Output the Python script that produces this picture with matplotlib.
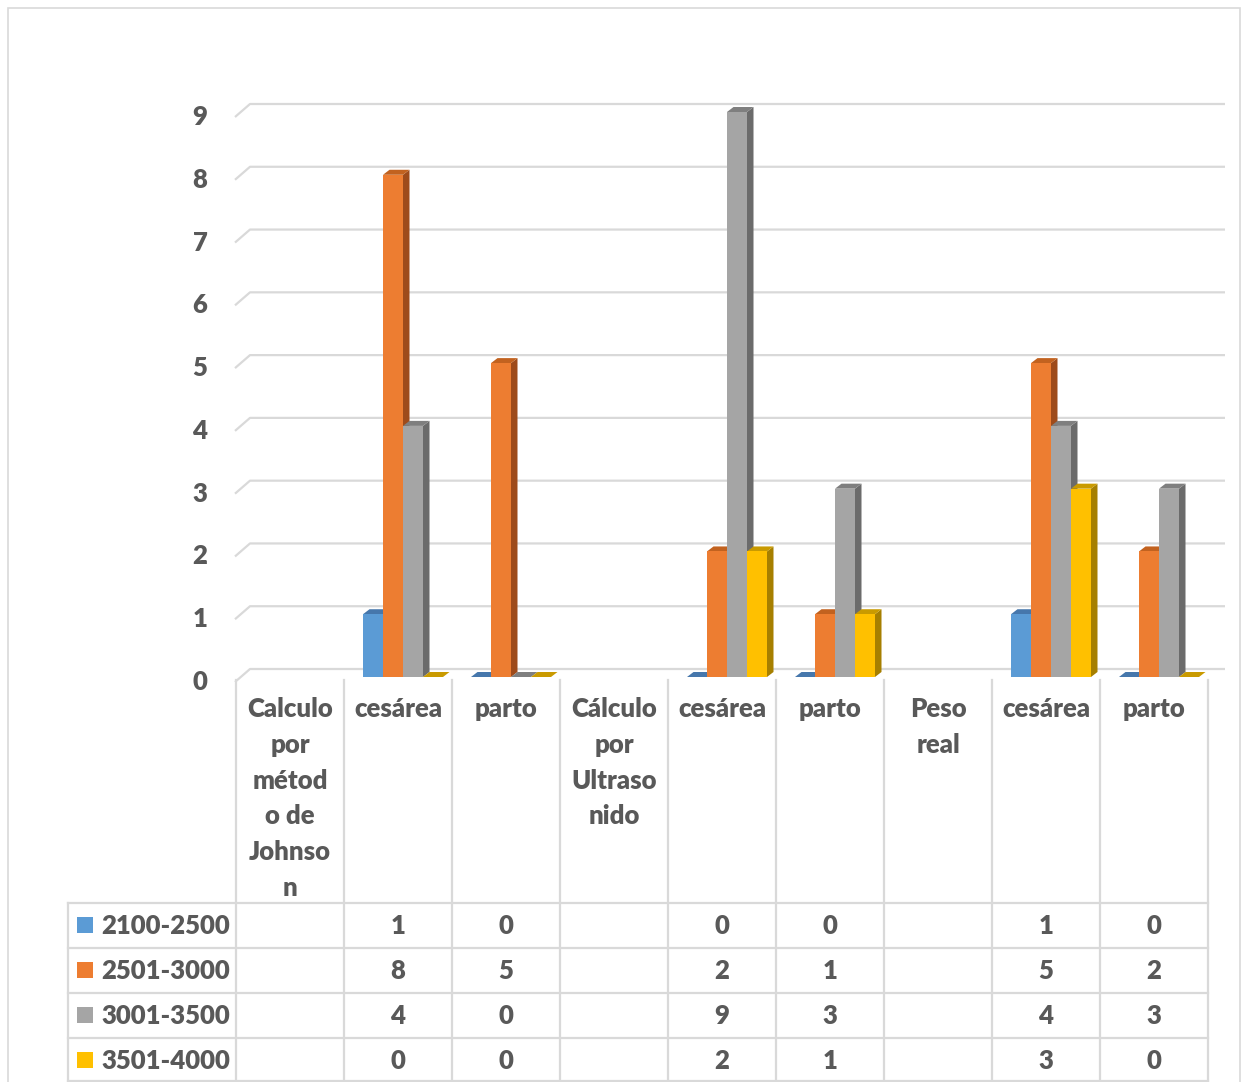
import numpy as np
import matplotlib
matplotlib.use("Agg")
import matplotlib.pyplot as plt
import matplotlib.patches as mpatches
import matplotlib.transforms as mtransforms

plt.rcParams['font.family'] = ['Lato', 'DejaVu Sans']
WEIGHT = 'heavy'
plt.rcParams['font.weight'] = WEIGHT
FS = 18.5

# ---- data -------------------------------------------------------------
categories = ["Calculo por método de Johnson", "cesárea", "parto",
              "Cálculo por Ultrasonido", "cesárea", "parto",
              "Peso real", "cesárea", "parto"]
tick_labels = ["Calculo\npor\nmétod\no de\nJohnso\nn", "cesárea", "parto",
               "Cálculo\npor\nUltraso\nnido", "cesárea", "parto",
               "Peso\nreal", "cesárea", "parto"]
series_names = ["2100-2500", "2501-3000", "3001-3500", "3501-4000"]
nan = np.nan
s_2100_2500 = [nan, 1, 0, nan, 0, 0, nan, 1, 0]
s_2501_3000 = [nan, 8, 5, nan, 2, 1, nan, 5, 2]
s_3001_3500 = [nan, 4, 0, nan, 9, 3, nan, 4, 3]
s_3501_4000 = [nan, 0, 0, nan, 2, 1, nan, 3, 0]
y_ticks = list(range(0, 10))

series = [s_2100_2500, s_2501_3000, s_3001_3500, s_3501_4000]
front_cols = ["#5B9BD5", "#ED7D31", "#A5A5A5", "#FFC000"]
top_cols = ["#4677AC", "#C2621F", "#7F7F7F", "#C99A00"]
side_cols = ["#3E6A96", "#9E4B1B", "#6B6B6B", "#A67F00"]
text_col = "#595959"
line_col = "#D9D9D9"

# ---- figure & axes ----------------------------------------------------
W, H = 1245, 1082
fig = plt.figure(figsize=(W / 100, H / 100), dpi=100)


def fx(x):
    return x / W


def fy(y):
    return 1 - y / H


L, R, B, T = 236, 1208, 677, 112
ax = fig.add_axes([fx(L), fy(B), fx(R) - fx(L), fy(T) - fy(B)])
ax.set_xlim(-0.5, len(categories) - 0.5)
ax.set_ylim(0, 9)
ax.axis('off')

ux = (R - L) / len(categories)   # pixels per category
uy = (B - T) / 9                 # pixels per unit value

# outer chart border
fig.patches.append(mpatches.Rectangle((fx(8), fy(1095)), fx(1240) - fx(8), fy(8) - fy(1095),
                                      transform=fig.transFigure, fill=False,
                                      edgecolor=line_col, linewidth=1.2))

# gridlines on the back wall with their floor diagonal
x_front = -0.5 - 1 / ux
x_back = -0.5 + 14 / ux
x_end = len(categories) - 0.5 + 17 / ux
for v in y_ticks:
    yb = v + 8 / uy
    yf = v - 5 / uy
    ax.plot([x_front, x_back, x_end], [yf, yb, yb], color=line_col, lw=1.6,
            clip_on=False, zorder=1, solid_capstyle='butt')
    ax.text(-0.5 - 36 / ux, yf, str(v), ha='center', va='center',
            fontsize=FS, color=text_col, fontweight=WEIGHT)

# 3D columns
bw = 20 / ux
off = 5 / ux
dx, dy = 6.5 / ux, 5 / uy
z = 3
for i in range(len(categories)):
    for k, s in enumerate(series):
        v = s[i]
        if np.isnan(v):
            continue
        x0 = i + off + (k - 2) * bw
        x1 = x0 + bw
        if v > 0:
            ax.add_patch(mpatches.Polygon([(x1, 0), (x1 + dx, dy), (x1 + dx, v + dy), (x1, v)],
                                          closed=True, facecolor=side_cols[k], edgecolor='none',
                                          clip_on=False, zorder=z))
        ax.add_patch(mpatches.Polygon([(x0, v), (x1, v), (x1 + dx, v + dy), (x0 + dx, v + dy)],
                                      closed=True, facecolor=top_cols[k], edgecolor='none',
                                      clip_on=False, zorder=z + 0.1))
        if v > 0:
            ax.add_patch(mpatches.Rectangle((x0, 0), bw, v, facecolor=front_cols[k],
                                            edgecolor='none', clip_on=False, zorder=z + 0.2))
        z += 1

# ---- data table -------------------------------------------------------
btr = mtransforms.blended_transform_factory(ax.transData, fig.transFigure)

# category labels (wrapped)
for i, lab in enumerate(tick_labels):
    for j, line in enumerate(lab.split("\n")):
        fig.text(i, fy(717 + 35.8 * j), line, transform=btr, ha='center', va='baseline',
                 fontsize=FS, color=text_col, fontweight=WEIGHT)

row_y = [925, 970, 1015, 1060]
for r, (name, s) in enumerate(zip(series_names, series)):
    yc = row_y[r]
    fig.patches.append(mpatches.Rectangle((fx(77), fy(yc + 8)), fx(16), fy(0) - fy(16),
                                          transform=fig.transFigure, facecolor=front_cols[r],
                                          edgecolor='none'))
    fig.text(fx(101), fy(yc + 9), name, ha='left', va='baseline', fontsize=FS,
             color=text_col, fontweight=WEIGHT)
    for i, v in enumerate(s):
        if not np.isnan(v):
            fig.text(i, fy(yc + 9), f"{int(v)}", transform=btr, ha='center', va='baseline',
                     fontsize=FS, color=text_col, fontweight=WEIGHT)

# table rules
for i in range(len(categories) + 1):
    fig.add_artist(plt.Line2D([i - 0.5, i - 0.5], [fy(680), fy(1085)], transform=btr,
                              color=line_col, lw=1.6))
fig.add_artist(plt.Line2D([fx(68), fx(68)], [fy(903), fy(1085)], transform=fig.transFigure,
                          color=line_col, lw=1.6))
for yy in [903, 948, 993, 1038, 1081]:
    fig.add_artist(plt.Line2D([fx(68), fx(R)], [fy(yy), fy(yy)], transform=fig.transFigure,
                              color=line_col, lw=1.6))

fig.savefig("out.png", dpi=100, facecolor='white')
